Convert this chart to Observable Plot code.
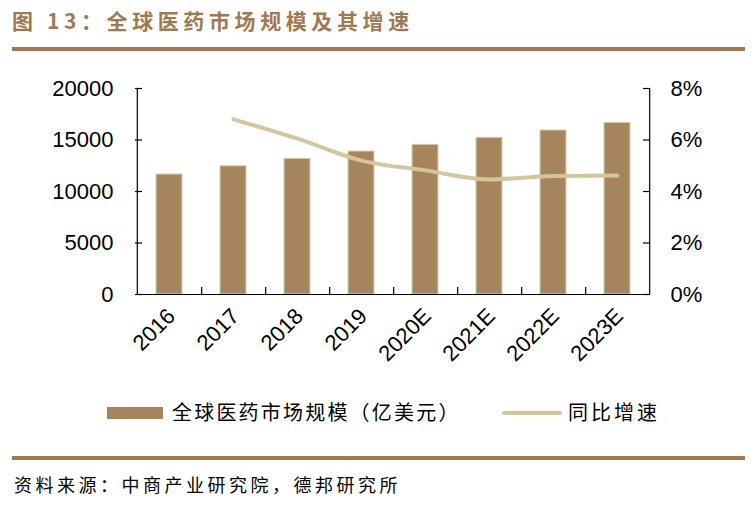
<!DOCTYPE html>
<html><head><meta charset="utf-8">
<script src="https://cdn.jsdelivr.net/npm/d3@7"></script>
<script src="https://cdn.jsdelivr.net/npm/@observablehq/plot@0.6"></script>
<style>
html,body{margin:0;padding:0;background:#fff;}
#wrap{position:relative;width:756px;height:505px;overflow:hidden;font-family:"Noto Sans CJK SC",sans-serif;}
#title{position:absolute;left:12px;top:5px;font-size:21px;font-weight:bold;color:#A27852;letter-spacing:4.6px;white-space:nowrap;}
.hr{position:absolute;left:12px;width:733px;height:4px;background:#A27852;}
#chart{position:absolute;left:0;top:55px;}
#legend{position:absolute;top:400px;left:0;width:756px;height:26px;font-size:20px;letter-spacing:2.2px;color:#000;}
.sw{position:absolute;}
.lt{position:absolute;top:0;line-height:24px;white-space:nowrap;}
#source{position:absolute;left:14px;top:471px;font-size:18px;letter-spacing:3.5px;white-space:nowrap;color:#000;}
</style></head>
<body><div id="wrap">
<div id="title">图 13：全球医药市场规模及其增速</div>
<div class="hr" style="top:47px"></div>
<div id="chart"></div>
<div id="legend">
  <div class="sw" style="left:107px;top:7px;width:56px;height:12px;background:#A6845D"></div>
  <div class="lt" style="left:172px">全球医药市场规模（亿美元）</div>
  <div class="sw" style="left:502px;top:11px;width:60px;height:4px;background:#D5C59F;border-radius:2px"></div>
  <div class="lt" style="left:568px;letter-spacing:3px">同比增速</div>
</div>
<div class="hr" style="top:456px"></div>
<div id="source">资料来源：中商产业研究院，德邦研究所</div>
</div>
<script>
const categories = ["2016","2017","2018","2019","2020E","2021E","2022E","2023E"];
const marketSize = [11650, 12450, 13170, 13880, 14530, 15210, 15920, 16670];
const growthPct = [null, 6.8, 6.05, 5.2, 4.82, 4.47, 4.6, 4.62];
const leftTicks = [0, 5000, 10000, 15000, 20000];
const rightTicks = [0, 2, 4, 6, 8];
const amtMax = 20000, pctMax = 8;

const W = 756, H = 320, mL = 135, mR = 106, mT = 33, mB = 81;
const plotW = W - mL - mR, plotH = H - mT - mB;
const step = plotW / categories.length;
const tickPx = 7;
const tickLen = tickPx * amtMax / plotH;
const toLeft = p => p * amtMax / pctMax;

const bars = categories.map((c, i) => ({cat: c, size: marketSize[i]}));
const line = categories.map((c, i) => ({cat: c, pct: growthPct[i]})).filter(d => d.pct != null);

const chart = Plot.plot({
  width: W, height: H,
  marginLeft: mL, marginRight: mR, marginTop: mT, marginBottom: mB,
  style: {fontFamily: "'Liberation Sans', Arial, sans-serif", fontSize: "22px", color: "#000", background: "#fff"},
  x: {type: "band", domain: categories, paddingInner: 0.6, paddingOuter: 0.3},
  y: {domain: [0, amtMax]},
  marks: [
    Plot.barY(bars, {x: "cat", y: "size", fill: "#A6845D", stroke: "#DCCBAE", strokeWidth: 1}),
    Plot.line(line, {x: "cat", y: d => toLeft(d.pct), stroke: "#D5C59F", strokeWidth: 4, curve: "monotone-x"}),
    Plot.ruleY([0], {stroke: "#000", strokeWidth: 1.2}),
    Plot.ruleX([categories[0]], {dx: -step / 2, y1: 0, y2: amtMax, stroke: "#000", strokeWidth: 1.2}),
    Plot.ruleX([categories[categories.length - 1]], {dx: step / 2, y1: 0, y2: amtMax, stroke: "#000", strokeWidth: 1.2}),
    Plot.ruleX(categories.slice(0, -1), {dx: step / 2, y1: 0, y2: tickLen, stroke: "#000", strokeWidth: 1.2}),
    Plot.ruleY(leftTicks, {insetRight: plotW - tickPx, stroke: "#000", strokeWidth: 1.2}),
    Plot.ruleY(rightTicks.map(toLeft), {insetLeft: plotW - tickPx, stroke: "#000", strokeWidth: 1.2}),
    Plot.axisY(leftTicks, {anchor: "left", tickSize: 0, tickPadding: 22, fontSize: 22, label: null, tickFormat: d => String(d)}),
    Plot.axisY(rightTicks.map(toLeft), {anchor: "right", tickSize: 0, tickPadding: 20, fontSize: 22, label: null, tickFormat: d => (d * pctMax / amtMax) + "%"}),
    Plot.axisX({tickSize: 0, tickRotate: -45, tickPadding: 18, dx: 2, fontSize: 22, label: null})
  ]
});
document.getElementById("chart").appendChild(chart);
</script>
</body></html>
